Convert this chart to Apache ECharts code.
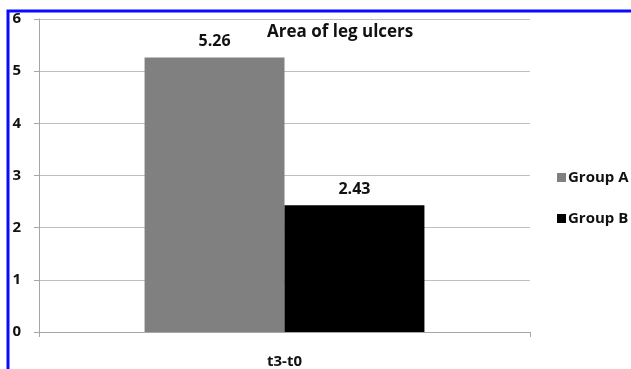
<!DOCTYPE html>
<html><head><meta charset="utf-8">
<script src="https://cdn.jsdelivr.net/npm/echarts@6/dist/echarts.min.js"></script>
<style>html,body{margin:0;padding:0;background:#fff}#c{width:631px;height:369px}</style>
</head><body><div id="c"></div>
<script>
var categories = ['t3-t0'];
var groupA = [5.26];
var groupB = [2.43];
var seriesNames = ['Group A', 'Group B'];
var titleText = 'Area of leg ulcers';

var chart = echarts.init(document.getElementById('c'), null, {renderer: 'canvas'});
var font = '"Open Sans", sans-serif';
chart.setOption({
  animation: false,
  textStyle: {fontFamily: font},
  title: {text: titleText, left: 262, top: 19,
    textStyle: {fontFamily: font, fontSize: 17, fontWeight: 'bold', color: '#111'}},
  grid: {left: 39, right: 101, top: 19, bottom: 34},
  legend: {
    orient: 'vertical', left: 552, top: 165, itemWidth: 9, itemHeight: 9, itemGap: 26,
    icon: 'rect',
    textStyle: {fontFamily: font, fontSize: 15, fontWeight: 'bold', color: '#111', padding: [0,0,0,-3]},
    data: seriesNames
  },
  xAxis: {
    type: 'category', data: categories,
    axisLine: {lineStyle: {color: '#a6a6a6', width: 1}},
    axisTick: {show: true, length: 5, lineStyle: {color: '#a6a6a6'}},
    axisLabel: {fontFamily: font, fontSize: 15, fontWeight: 'bold', color: '#111', margin: 22}
  },
  yAxis: {
    type: 'value', min: 0, max: 6, interval: 1,
    axisLine: {show: true, lineStyle: {color: '#a6a6a6'}},
    axisTick: {show: true, length: 5, lineStyle: {color: '#a6a6a6'}},
    splitLine: {lineStyle: {color: '#bfbfbf'}},
    axisLabel: {fontFamily: font, fontSize: 15, fontWeight: 'bold', color: '#111', margin: 18, padding: [4,0,0,0]}
  },
  series: [
    {name: seriesNames[0], type: 'bar', data: groupA, barGap: '0%', barCategoryGap: '43%',
     itemStyle: {color: '#808080'},
     label: {show: true, position: 'top', distance: 8, fontFamily: font, fontSize: 16, fontWeight: 'bold', color: '#111'}},
    {name: seriesNames[1], type: 'bar', data: groupB, barGap: '0%', barCategoryGap: '43%',
     itemStyle: {color: '#000'},
     label: {show: true, position: 'top', distance: 8, fontFamily: font, fontSize: 16, fontWeight: 'bold', color: '#111'}}
  ],
  graphic: [{type: 'rect', shape: {x: 8, y: 11, width: 700, height: 500},
    style: {fill: 'none', stroke: '#0a0aff', lineWidth: 3}, z: 100}]
});
</script></body></html>
